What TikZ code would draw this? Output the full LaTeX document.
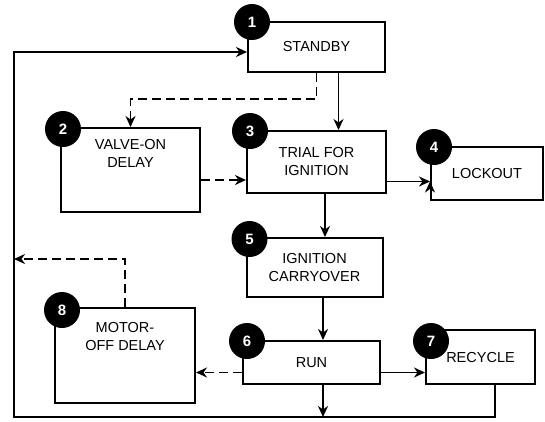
\documentclass[tikz,border=0pt]{standalone}
\usepackage{fontspec}
\setmainfont{Liberation Sans}
\usetikzlibrary{arrows.meta, positioning}

\begin{document}
\begin{tikzpicture}[
    node distance=45pt,
    box/.style={rectangle, draw, line width=2pt, align=center, inner sep=2pt, font=\fontsize{14.5}{18}\selectfont},
    num/.style={circle, fill=black, minimum size=36pt, inner sep=0pt, text=white, font=\bfseries\fontsize{15}{15}\selectfont},
    arrow/.style={-{Stealth[length=11pt, width=10pt, inset=3.5pt]}, line width=1.9pt},
    dasharrow/.style={arrow, dash pattern=on 9pt off 5pt}
]

\useasboundingbox (0,0) rectangle (545pt,-421pt);

\node[box, minimum width=137pt, minimum height=50pt] (standby) at (316.5pt,-47pt) {STANDBY};
\node[box, minimum width=139pt, minimum height=62pt, below=57pt of standby] (trial) {TRIAL FOR\\IGNITION};
\node[box, minimum width=139pt, minimum height=84pt, text depth=34pt, left=45pt of trial, yshift=-8pt] (valve) {VALVE-ON\\DELAY};
\node[box, minimum width=112pt, minimum height=53pt, right=43pt of trial, yshift=-11.5pt] (lockout) {LOCKOUT};
\node[box, minimum width=136pt, minimum height=59pt, below=43pt of trial, xshift=-2pt] (ignition) {IGNITION\\CARRYOVER};
\node[box, minimum width=137pt, minimum height=43pt, below=42pt of ignition, xshift=-3pt] (run) {RUN};
\node[box, minimum width=109pt, minimum height=54pt, right=44pt of run, yshift=5.5pt] (recycle) {RECYCLE};
\node[box, minimum width=140pt, minimum height=95pt, text depth=38pt, left=46pt of run, yshift=7pt] (motor) {MOTOR-\\OFF DELAY};

\node[num] (n1) at ([xshift=5pt, yshift=-1pt]standby.north west) {1};
\node[num] (n2) at ([xshift=3pt, yshift=-2pt]valve.north west) {2};
\node[num] (n3) at ([xshift=4pt, yshift=-1pt]trial.north west) {3};
\node[num] (n4) at ([xshift=4pt, yshift=-1pt]lockout.north west) {4};
\node[num] (n5) at ([xshift=4pt, yshift=-2pt]ignition.north west) {5};
\node[num] (n6) at ([xshift=5pt, yshift=-1pt]run.north west) {6};
\node[num] (n7) at ([xshift=6pt, yshift=-12pt]recycle.north west) {7};
\node[num] (n8) at ([xshift=8pt, yshift=-3pt]motor.north west) {8};

\coordinate (loopbl) at (14pt,-417pt);
\coordinate (loopml) at (14pt,-259pt);

\draw[arrow] ([xshift=22pt]standby.south) coordinate (s1) -- (s1 |- trial.north);
\draw[dasharrow] (standby.south) -- ++(0,-26pt) -| (valve.north);
\draw[dasharrow] ([yshift=-10pt]valve.east) coordinate (v1) -- (v1 -| trial.west);
\draw[arrow] ([yshift=-8pt]lockout.west) coordinate (l1);
\draw[arrow] (l1 -| trial.east) -- (l1);
\draw[arrow] ([xshift=8.5pt]trial.south) coordinate (t1) -- (t1 |- ignition.north);
\draw[arrow] ([xshift=8.5pt]ignition.south) coordinate (i1) -- (i1 |- run.north);
\draw[arrow] ([yshift=-10pt]run.east) coordinate (r1) -- (r1 -| recycle.west);
\draw[dasharrow] ([yshift=-10pt]run.west) coordinate (r2) -- (r2 -| motor.east);
\draw[arrow] ([xshift=11.5pt]run.south) coordinate (r3) -- (r3 |- loopbl);
\draw[arrow] ([xshift=14.5pt]recycle.south) |- (loopbl) |- ([yshift=-5pt]standby.west);
\draw[dasharrow] (motor.north) |- (loopml);

\end{tikzpicture}
\end{document}
